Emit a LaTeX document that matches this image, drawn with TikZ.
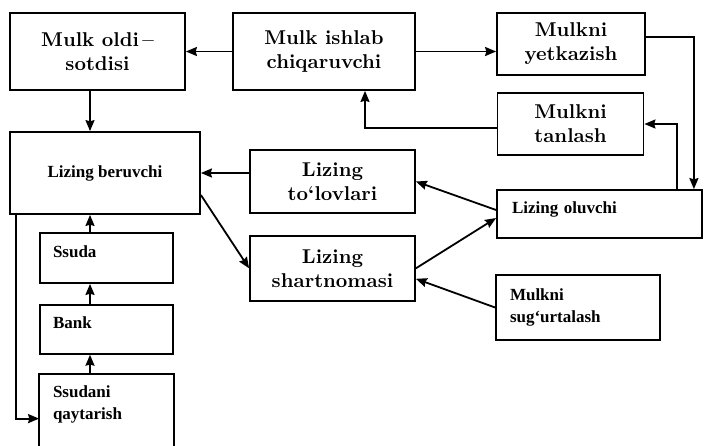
\documentclass[tikz,border=0pt]{standalone}
\usepackage{fontspec}
\usepackage{tikz}
\usetikzlibrary{arrows.meta, positioning}

\newfontfamily\noteserif{Liberation Serif}
\newcommand\boxfont{\fontsize{10}{12}\selectfont\bfseries}
\newcommand\notefont{\noteserif\bfseries\fontsize{8.5}{11}\selectfont}

\begin{document}
\begin{tikzpicture}[
    x=0.5pt, y=-0.5pt,
    box/.style={rectangle, draw, line width=0.9pt, inner sep=0pt, align=center, font=\boxfont},
    note/.style={rectangle, draw, line width=0.9pt, inner ysep=0pt, align=left, font=\notefont},
    lifted/.style={text height=5.5pt, text depth=6pt},
    arrow/.style={-{Stealth[length=5.5pt, width=4.5pt, inset=0.6pt]}, line width=0.9pt}
]
\useasboundingbox (0,0) rectangle (704,445);

% top row
\node[box, minimum width=87.5pt, minimum height=38.5pt] (oldi) at (97.5,51.5) {Mulk oldi\,--\\sotdisi};
\node[box, minimum width=91pt, minimum height=38.5pt] (ishlab) at (324,51.5) {Mulk ishlab\\chiqaruvchi};
\node[box, minimum width=74pt, minimum height=31pt] (yetkaz) at (571,44) {Mulkni\\yetkazish};
\node[box, minimum width=73pt, minimum height=31pt] (tanlash) at (570.5,124) {Mulkni\\tanlash};

% middle
\node[note, align=center, minimum width=95pt, minimum height=41pt] (beruv) at (105,173) {Lizing beruvchi};
\node[box, minimum width=82.5pt, minimum height=31.5pt] (tolov) at (332.5,181.5) {Lizing\\to‘lovlari};
\node[box, minimum width=82.5pt, minimum height=32.5pt, below=10.5pt of tolov] (shart) {Lizing\\shartnomasi};
\node[note, lifted, inner xsep=7.5pt, text width=87.5pt, minimum height=24pt] (oluv) at (599.5,214) {Lizing oluvchi};
\node[note, inner xsep=7pt, text width=68pt, minimum height=32.5pt] (sugurta) at (578,307.5) {Mulkni\\sug‘urtalash};

% credit column
\node[note, lifted, inner xsep=6.5pt, text width=53.5pt, minimum height=25pt] (ssuda) at (106.5,258) {Ssuda};
\node[note, lifted, inner xsep=6.5pt, text width=53.5pt, minimum height=24.5pt, below=10pt of ssuda] (bank) {Bank};
\node[note, draw=none, inner xsep=6.5pt, text width=53.5pt, minimum height=29.5pt, below=9.5pt of bank] (qayt) {Ssudani\\qaytarish};
\draw[line width=0.9pt] ([yshift=-7.5pt]qayt.south west) -- (qayt.north west) -- (qayt.north east) -- ([yshift=-7.5pt]qayt.south east);

\draw[arrow] (ishlab.west) -- (oldi.east);
\draw[arrow] (ishlab.east) -- (ishlab.east -| yetkaz.west);
\draw[arrow] ([yshift=3.5pt]yetkaz.east) -| ([xshift=-4.5pt]oluv.north east);
\draw[arrow] ([xshift=-13pt]oluv.north east) |- (tanlash.east);
\draw[arrow] ([yshift=-2pt]tanlash.west) -| ([xshift=20.5pt]ishlab.south);
\draw[arrow] ([xshift=-3.75pt]oldi.south) -- ([xshift=-3.75pt]oldi.south |- beruv.north);
\draw[arrow] (tolov.west |- beruv.east) -- (beruv.east);
\draw[arrow] ([yshift=-11pt]beruv.east) -- (shart.west);
\draw[arrow] ([yshift=2pt]oluv.west) -- (tolov.east);
\draw[arrow] (shart.east) -- ([yshift=-2pt]oluv.west);
\draw[arrow] (sugurta.west) -- ([yshift=-5.25pt]shart.east);
\draw[arrow] ([xshift=-8.25pt]ssuda.north) -- ([xshift=-8.25pt]ssuda.north |- beruv.south);
\draw[arrow] ([xshift=-8.25pt]bank.north) -- ([xshift=-8.25pt]bank.north |- ssuda.south);
\draw[arrow] ([xshift=-8.25pt]qayt.north) -- ([xshift=-8.25pt]qayt.north |- bank.south);
\draw[arrow] ([xshift=3.5pt]beruv.south west) |- ([yshift=-7.25pt]qayt.west);
\end{tikzpicture}
\end{document}
